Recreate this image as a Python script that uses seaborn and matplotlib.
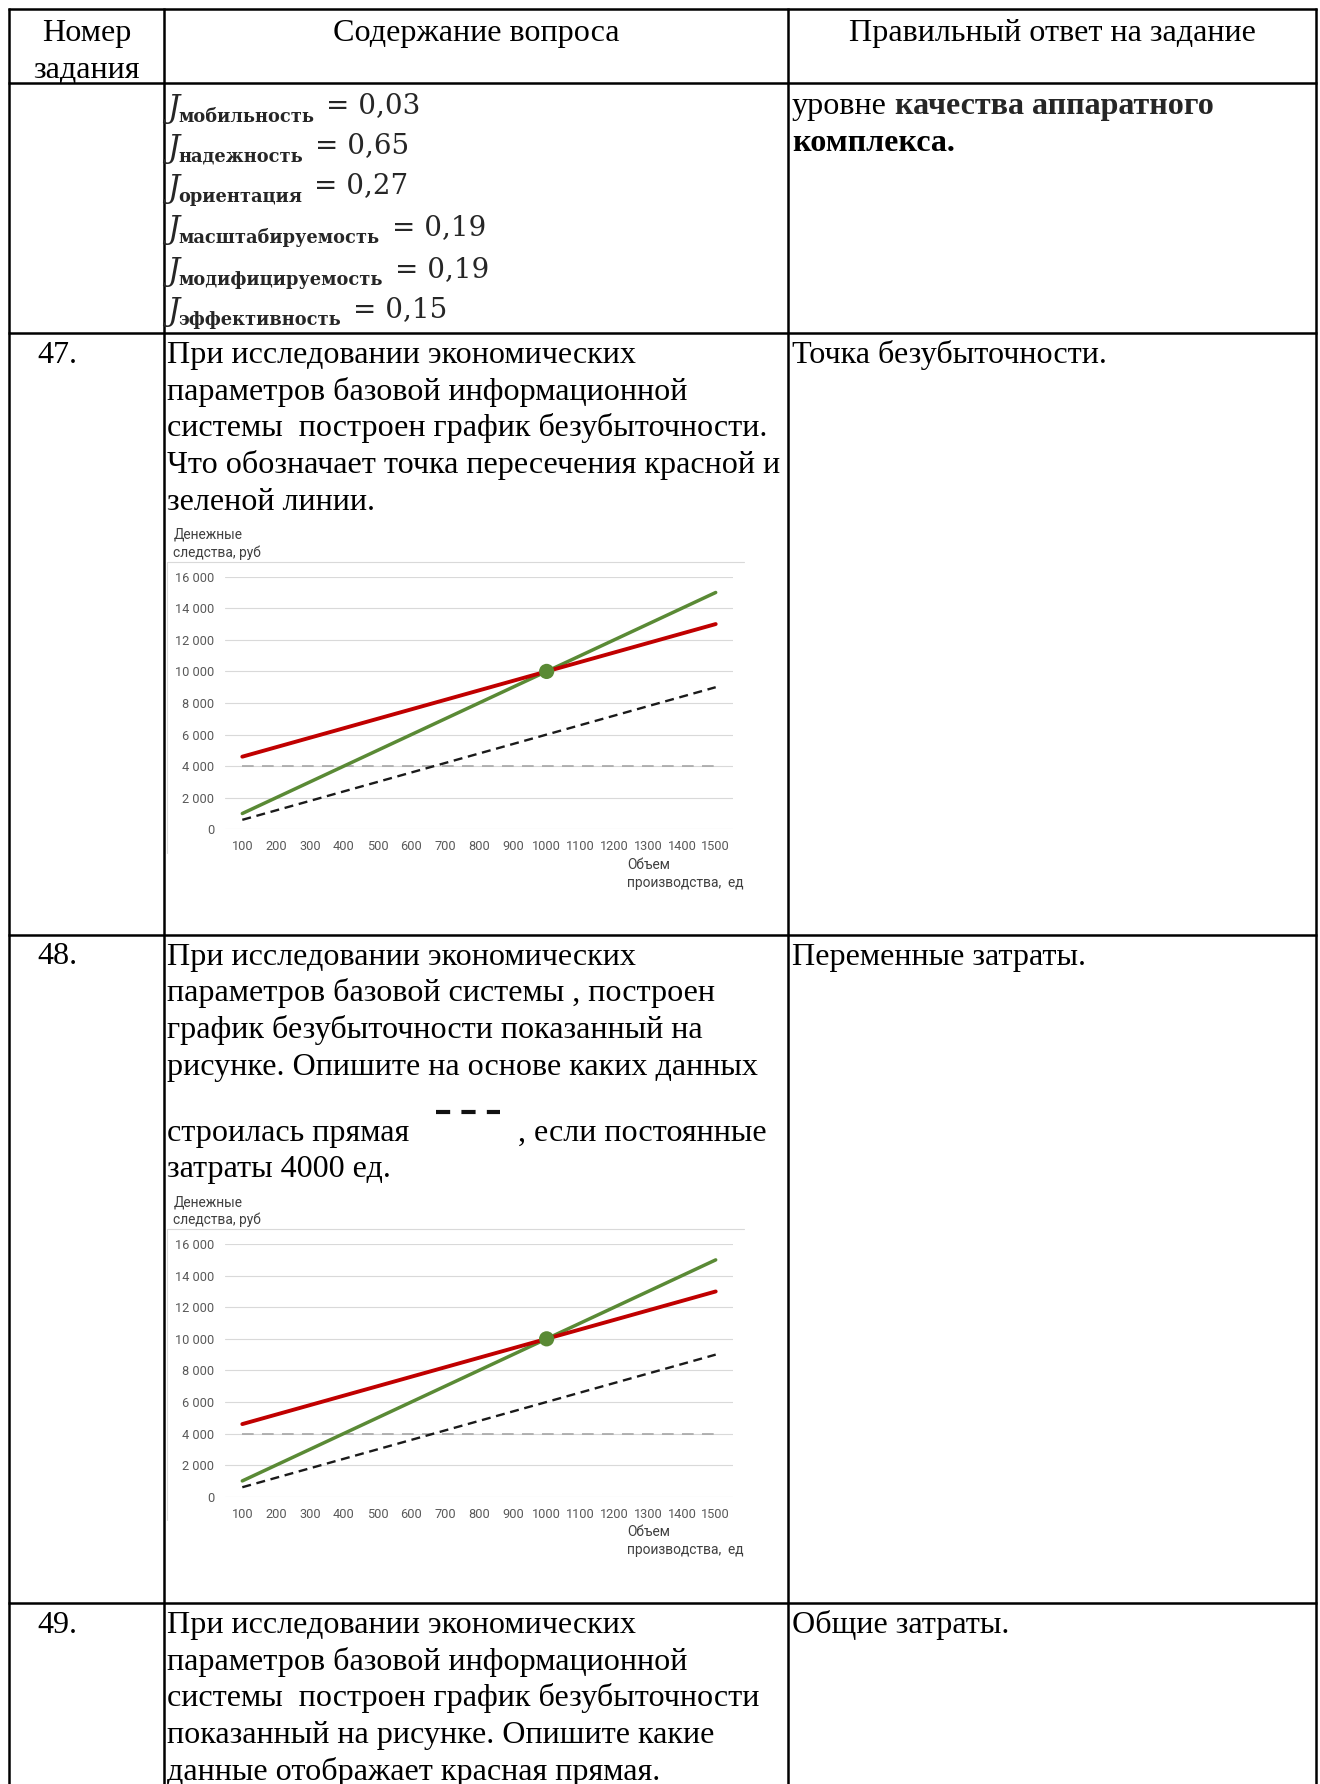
import matplotlib.pyplot as plt
import seaborn as sns
from matplotlib.lines import Line2D

# ---------------------------
# DATA
# ---------------------------
volume = [100, 200, 300, 400, 500, 600, 700, 800, 900, 1000, 1100, 1200, 1300, 1400, 1500]
revenue = [1000, 2000, 3000, 4000, 5000, 6000, 7000, 8000, 9000, 10000, 11000, 12000, 13000, 14000, 15000]
total_costs = [4600, 5200, 5800, 6400, 7000, 7600, 8200, 8800, 9400, 10000, 10600, 11200, 11800, 12400, 13000]
variable_costs = [600, 1200, 1800, 2400, 3000, 3600, 4200, 4800, 5400, 6000, 6600, 7200, 7800, 8400, 9000]
fixed_costs = [4000, 4000, 4000, 4000, 4000, 4000, 4000, 4000, 4000, 4000, 4000, 4000, 4000, 4000, 4000]
breakeven_x = [1000]
breakeven_y = [10000]
y_ticks = [0, 2000, 4000, 6000, 8000, 10000, 12000, 14000, 16000]

j_names = ["мобильность", "надежность", "ориентация", "масштабируемость",
           "модифицируемость", "эффективность"]
j_values = ["0,03", "0,65", "0,27", "0,19", "0,19", "0,15"]

header = ["Номер\nзадания", "Содержание вопроса", "Правильный ответ на задание"]

q47 = ["При исследовании экономических",
       "параметров базовой информационной",
       "системы  построен график безубыточности.",
       "Что обозначает точка пересечения красной и",
       "зеленой линии."]
q48 = ["При исследовании экономических",
       "параметров базовой системы , построен",
       "график безубыточности показанный на",
       "рисунке. Опишите на основе каких данных"]
q49 = ["При исследовании экономических",
       "параметров базовой информационной",
       "системы  построен график безубыточности",
       "показанный на рисунке. Опишите какие",
       "данные отображает красная прямая."]
answers = ["Точка безубыточности.", "Переменные затраты.", "Общие затраты."]

# ---------------------------
# STYLE
# ---------------------------
W, H = 1320, 1784
GREEN = "#5A8A35"
RED = "#C00000"
GRID = "#D9D9D9"
TICK = "#595959"
FS = 23.1
SERIF = "Liberation Serif"
SANS = "Roboto"

sns.set_style("white")
plt.rcParams["font.family"] = [SERIF, "DejaVu Serif"]

fig = plt.figure(figsize=(W / 100, H / 100), dpi=100)
page = fig.add_axes([0, 0, 1, 1])
page.set_xlim(0, W)
page.set_ylim(H, 0)
page.axis("off")


def put(x, y, s, **kw):
    kw.setdefault("fontsize", FS)
    kw.setdefault("fontfamily", SERIF)
    kw.setdefault("color", "black")
    kw.setdefault("va", "baseline")
    kw.setdefault("ha", "left")
    return page.text(x, y, s, **kw)


# ---------------------------
# TABLE GRID
# ---------------------------
col_x = [9, 164, 788, 1316]
row_y = [9, 83, 333, 935, 1603]
for y in row_y:
    page.plot([col_x[0] - 1, col_x[-1] + 1], [y, y], color="black", lw=1.8, solid_capstyle="butt")
for x in col_x:
    page.plot([x, x], [row_y[0] - 1, H], color="black", lw=1.8, solid_capstyle="butt")

# header
put(86.5, 41, "Номер", ha="center")
put(86.5, 77.5, "задания", ha="center")
put(476, 41, header[1], ha="center")
put(1052, 41, header[2], ha="center")

# ---------------------------
# ROW WITH FORMULAS
# ---------------------------
j_base = [113.5, 153.5, 193.5, 235, 277, 317]
for name, val, yb in zip(j_names, j_values, j_base):
    put(167, yb + 3, "J", fontfamily="DejaVu Serif", style="italic", fontsize=22, color="#262626")
    sub = put(178, yb + 8, name, fontfamily="DejaVu Serif", fontsize=12.8,
              fontweight="bold", color="#262626")
    page.annotate("= " + val, xy=(1, yb), xycoords=(sub, "data"), xytext=(9, 0),
                  textcoords="offset points", va="baseline", ha="left",
                  fontfamily="DejaVu Serif", fontsize=20, color="#262626")

t = put(792, 114, "уровне")
page.annotate("качества аппаратного", xy=(1, 114), xycoords=(t, "data"), xytext=(6, 0),
              textcoords="offset points", va="baseline", ha="left",
              fontfamily=SERIF, fontsize=FS, fontweight="bold")
put(792, 151, "комплекса.", fontweight="bold")

# ---------------------------
# QUESTION ROWS
# ---------------------------
step = 36.7
put(37.5, 363, "47.")
for i, line in enumerate(q47):
    put(167, 363 + i * step, line)
put(792, 363, answers[0])

put(37.5, 964.5, "48.")
for i, line in enumerate(q48):
    put(167, 964.5 + i * step, line)
put(167, 1141, "строилась прямая")
put(518, 1141, ", если постоянные")
put(167, 1177.5, "затраты 4000 ед.")
put(792, 964.5, answers[1])
page.add_line(Line2D([436, 500], [1111.5, 1111.5], color="#111111", lw=3.0,
                     linestyle=(0, (3.4, 2.7)), solid_capstyle="butt",
                     dash_capstyle="butt"))

put(37.5, 1633, "49.")
for i, line in enumerate(q49):
    put(167, 1633 + i * step, line)
put(792, 1633, answers[2])


# ---------------------------
# CHARTS
# ---------------------------
def draw_chart(top):
    # chart frame (top and left edges visible)
    page.plot([167, 744], [top - 15, top - 15], color=GRID, lw=0.8)
    page.plot([167, 167], [top - 15, top + 276], color=GRID, lw=0.8)

    left, right = 225.4, 732.6
    bottom = top + 252.6
    ax = fig.add_axes([left / W, 1 - bottom / H, (right - left) / W, (bottom - top) / H])
    ax.set_facecolor("none")

    sns.lineplot(x=volume, y=fixed_costs, ax=ax, color="#A6A6A6", lw=1.2,
                 linestyle=(0, (7, 5)))
    sns.lineplot(x=volume, y=variable_costs, ax=ax, color="#1a1a1a", lw=1.7,
                 linestyle=(0, (3.8, 2.4)))
    sns.lineplot(x=volume, y=revenue, ax=ax, color=GREEN, lw=2.5)
    sns.lineplot(x=volume, y=total_costs, ax=ax, color=RED, lw=2.8)
    sns.scatterplot(x=breakeven_x, y=breakeven_y, ax=ax, color=GREEN, s=120,
                    edgecolor="none", zorder=5)

    ax.set_xlim(50, 1550)
    ax.set_ylim(0, 16000)
    ax.set_xticks(volume)
    ax.set_xticklabels([str(v) for v in volume])
    ax.set_yticks(y_ticks)
    ax.set_yticklabels([f"{v:,}".replace(",", " ") for v in y_ticks])
    ax.grid(axis="y", color=GRID, lw=0.8)
    ax.grid(axis="x", visible=False)
    ax.set_axisbelow(True)
    for s in ax.spines.values():
        s.set_visible(False)
    ax.tick_params(length=0, labelsize=9.2, labelcolor=TICK, pad=8)
    for lab in ax.get_xticklabels() + ax.get_yticklabels():
        lab.set_fontfamily(SANS)
    ax.set_xlabel("")
    ax.set_ylabel("")

    put(173.4, top - 42, "Денежные", fontfamily=SANS, fontsize=9.9, color="#404040", va="center")
    put(173.4, top - 24, "следства, руб", fontfamily=SANS, fontsize=9.9, color="#404040", va="center")
    put(627, top + 288, "Объем", fontfamily=SANS, fontsize=9.9, color="#404040", va="center")
    put(627, top + 306, "производства,  ед", fontfamily=SANS, fontsize=9.9, color="#404040", va="center")


draw_chart(576.7)
draw_chart(1244.1)

fig.savefig("out.png", dpi=100)
